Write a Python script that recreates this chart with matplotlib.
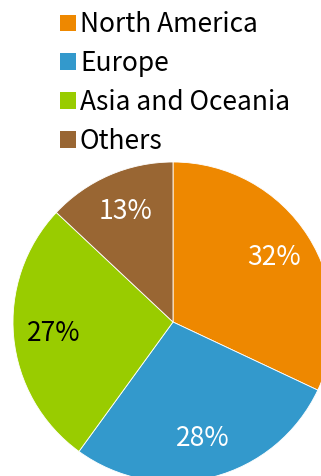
import matplotlib.pyplot as plt
from matplotlib.patches import Patch

# Share of sales by region
regions = ["North America", "Europe", "Asia and Oceania", "Others"]
shares = [32, 28, 27, 13]
colors = ["#EE8800", "#3399CC", "#99CC00", "#996633"]
label_colors = ["white", "white", "black", "white"]

plt.rcParams['font.family'] = ['Noto Sans CJK JP', 'DejaVu Sans']

fig = plt.figure(figsize=(3.21, 4.76), dpi=100)

# pie is centred low and to the right, partly running off the canvas
W, H = 321, 476
cx, cy, r = 173, 322, 160
ax = fig.add_axes([(cx - r) / W, (H - cy - r) / H, 2 * r / W, 2 * r / H])

wedges, texts, autotexts = ax.pie(
    shares, colors=colors, startangle=90, counterclock=False,
    autopct=lambda p: f"{p:.0f}%", pctdistance=0.75,
    wedgeprops=dict(edgecolor="white", linewidth=0.6),
    textprops=dict(fontsize=19),
)
for t, c in zip(autotexts, label_colors):
    t.set_color(c)
ax.set_xlim(-1, 1)
ax.set_ylim(-1, 1)
ax.set_aspect("equal")
ax.axis("off")

handles = [Patch(facecolor=c, edgecolor="none") for c in colors]
fig.legend(handles, regions, loc="upper left", bbox_to_anchor=(47 / W, 1 + 2 / H),
           frameon=False, fontsize=19, handlelength=0.6, handleheight=0.6,
           handletextpad=0.15, labelspacing=0.45, borderpad=0.0)

fig.savefig("out.png", dpi=100)
